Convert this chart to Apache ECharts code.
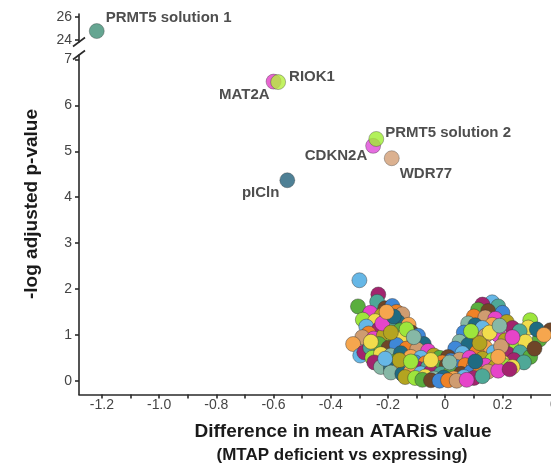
<!DOCTYPE html>
<html>
<head>
<meta charset="utf-8">
<script src="https://cdn.jsdelivr.net/npm/echarts@6/dist/echarts.min.js"></script>
<style>
  html, body { margin: 0; padding: 0; background: #fff; overflow: hidden; }
  /* the plot area runs past the right edge of the page, so the frame is wider than the window */
  #chart { width: 574px; height: 466px; }
</style>
</head>
<body>
<div id="chart"></div>
<script>
// ---- axis ticks ----
const xTickLabels = [-1.2, -1.0, -0.8, -0.6, -0.4, -0.2, 0, 0.2, 0.4];
const xTickMarks = [-1.2, -1.1, -1.0, -0.9, -0.8, -0.7, -0.6, -0.5, -0.4, -0.3, -0.2, -0.1, 0, 0.1, 0.2, 0.3, 0.4];
const yTicksLower = [0, 1, 2, 3, 4, 5, 6, 7];
const yTicksUpper = [24, 26];

// ---- named hits (difference, -log adj p) ----
const hitNames = ['MAT2A', 'RIOK1', 'CDKN2A', 'PRMT5 solution 2', 'WDR77', 'pICln'];
const hitDiff  = [-0.600, -0.584, -0.252, -0.241, -0.187, -0.552];
const hitLogP  = [6.52, 6.51, 5.12, 5.27, 4.85, 4.37];

const topHitName = 'PRMT5 solution 1';
const topHitDiff = -1.218;
const topHitLogP = 24.78;

// ---- remaining genes: [difference, -log adj p] ----
const leftArm = [
  [-0.300, 2.19], [-0.234, 1.88], [-0.238, 1.72], [-0.305, 1.62], [-0.210, 1.58],
  [-0.185, 1.63], [-0.170, 1.50], [-0.150, 1.45], [-0.262, 1.48], [-0.222, 1.42],
  [-0.288, 1.33], [-0.245, 1.30], [-0.205, 1.34], [-0.165, 1.28], [-0.128, 1.22],
  [-0.276, 1.18], [-0.232, 1.12], [-0.196, 1.20], [-0.158, 1.10], [-0.118, 1.05],
  [-0.095, 0.98], [-0.268, 1.03], [-0.290, 0.95], [-0.250, 0.92], [-0.215, 0.98],
  [-0.180, 0.90], [-0.145, 0.96], [-0.108, 0.85], [-0.075, 0.80], [-0.322, 0.80],
  [-0.297, 0.55], [-0.283, 0.62], [-0.262, 0.72], [-0.232, 0.80], [-0.198, 0.72],
  [-0.170, 0.78], [-0.135, 0.70], [-0.098, 0.68], [-0.060, 0.65], [-0.040, 0.55],
  [-0.255, 0.50], [-0.225, 0.58], [-0.190, 0.55], [-0.155, 0.60], [-0.120, 0.52],
  [-0.085, 0.50], [-0.248, 0.40], [-0.210, 0.38], [-0.175, 0.42], [-0.140, 0.36],
  [-0.105, 0.40], [-0.070, 0.38], [-0.030, 0.42], [-0.220, 1.25], [-0.190, 1.05],
  [-0.135, 1.12], [-0.260, 0.85], [-0.110, 0.95], [-0.180, 1.40], [-0.205, 1.50]
];

const rightArm = [
  [0.164, 1.71], [0.130, 1.66], [0.185, 1.62], [0.115, 1.55], [0.150, 1.52],
  [0.200, 1.48], [0.100, 1.40], [0.140, 1.38], [0.175, 1.35], [0.215, 1.28],
  [0.297, 1.32], [0.290, 1.16], [0.080, 1.25], [0.105, 1.21], [0.164, 1.22],
  [0.130, 1.15], [0.235, 1.15], [0.260, 1.08], [0.330, 0.90], [0.367, 1.10],
  [0.065, 1.05], [0.101, 0.92], [0.140, 0.98], [0.185, 1.00], [0.210, 0.88],
  [0.250, 0.80], [0.280, 0.85], [0.050, 0.85], [0.080, 0.78], [0.140, 0.72],
  [0.170, 0.62], [0.220, 0.58], [0.262, 0.62], [0.297, 0.52], [0.312, 0.70],
  [0.035, 0.70], [0.110, 0.62], [0.195, 0.75], [0.235, 0.95], [0.120, 0.82],
  [0.090, 1.08], [0.155, 1.05], [0.190, 1.20], [0.320, 1.12], [0.345, 1.00],
  [0.060, 0.60], [0.240, 0.45], [0.275, 0.40]
];

const valleyFloor = [
  [-0.020, 0.50], [0.010, 0.52], [0.020, 0.44], [-0.010, 0.40], [0.050, 0.46],
  [0.085, 0.50], [0.130, 0.48], [0.165, 0.45], [0.200, 0.40],
  [-0.225, 0.30], [-0.190, 0.28], [-0.160, 0.25], [-0.125, 0.30], [-0.095, 0.26],
  [-0.060, 0.30], [-0.025, 0.28], [0.005, 0.33], [0.040, 0.30], [0.070, 0.34],
  [0.100, 0.30], [0.140, 0.33], [0.175, 0.30], [0.210, 0.32], [0.235, 0.30],
  [-0.190, 0.18], [-0.150, 0.15], [-0.120, 0.20], [-0.085, 0.16], [-0.050, 0.19],
  [-0.015, 0.15], [0.020, 0.18], [0.055, 0.15], [0.090, 0.19], [0.120, 0.16],
  [0.150, 0.20], [0.185, 0.22],
  [-0.140, 0.08], [-0.105, 0.06], [-0.070, 0.09], [-0.040, 0.05], [-0.005, 0.07],
  [0.030, 0.05], [0.065, 0.08], [0.100, 0.06], [0.130, 0.10],
  [-0.080, 0.02], [-0.050, 0.01], [-0.020, 0.00], [0.010, 0.01], [0.040, 0.00],
  [0.075, 0.02],
  [-0.160, 0.45], [-0.120, 0.42], [-0.050, 0.45], [0.015, 0.40], [0.105, 0.42],
  [0.185, 0.52], [-0.210, 0.48], [0.225, 0.25]
];

// ---- styling ----
const palette = ['#9de63c', '#e644c9', '#ef8226', '#6f4628', '#4ea897', '#66b7e6', '#1f6b82',
                 '#f1dc4c', '#b4a420', '#cf9c70', '#3f88d8', '#5aae3e', '#a3246e', '#f6a64e', '#86b8a6'];
const hitColor = {
  'MAT2A': '#e23ec6', 'RIOK1': '#b4ef3c', 'CDKN2A': '#df4ad8',
  'PRMT5 solution 2': '#9fee32', 'WDR77': '#d29e74', 'pICln': '#22607a',
  'PRMT5 solution 1': '#3f8f76'
};
// label anchor side and nudge for each named gene
const hitLabel = {
  'MAT2A': ['left', [4, 13]], 'RIOK1': ['right', [3, -5]],
  'CDKN2A': ['left', [2, 10]], 'PRMT5 solution 2': ['right', [1, -6]],
  'WDR77': ['right', [0, 16]], 'pICln': ['left', [0, 13]],
  'PRMT5 solution 1': ['right', [1, -13]]
};

const FONT = "'Liberation Sans', Arial, Helvetica, sans-serif";
const X_MIN = -1.28, X_MAX = 0.45;
const LOW_MIN = -0.3, LOW_MAX = 7.1;
const UP_MIN = 23.83, UP_MAX = 26.26;

const cloud = leftArm.concat(rightArm, valleyFloor);

function hitItem(name, x, y) {
  const [pos, off] = hitLabel[name];
  return {
    name: name,
    value: [x, y],
    itemStyle: { color: hitColor[name] },
    label: { show: true, position: pos, distance: 0, offset: off, formatter: '{b}' }
  };
}

const lowerHits = hitNames.map((n, i) => hitItem(n, hitDiff[i], hitLogP[i]));
const upperHits = [hitItem(topHitName, topHitDiff, topHitLogP)];

const axisLineStyle = { color: '#2a2a2a', width: 1.6 };
const tickLabelStyle = { color: '#444', fontSize: 14, fontFamily: FONT };

const chart = echarts.init(document.getElementById('chart'), null, { renderer: 'canvas' });

chart.setOption({
  animation: false,
  backgroundColor: '#fff',
  textStyle: { fontFamily: FONT },
  grid: [
    { left: 79, right: 0, top: 55, bottom: 71.5 },
    { left: 79, right: 0, top: 14, height: 28 }
  ],
  xAxis: [
    {
      type: 'value', gridIndex: 0, min: X_MIN, max: X_MAX,
      splitLine: { show: false },
      axisLine: { show: true, onZero: false, lineStyle: axisLineStyle },
      axisTick: { show: true, length: 4, customValues: xTickMarks, lineStyle: axisLineStyle },
      axisLabel: Object.assign({
        margin: 4, customValues: xTickLabels, showMinLabel: true, showMaxLabel: true,
        formatter: v => (Math.abs(v) < 1e-9 ? '0' : v.toFixed(1))
      }, tickLabelStyle)
    },
    {
      type: 'value', gridIndex: 1, min: X_MIN, max: X_MAX, show: false
    }
  ],
  yAxis: [
    {
      type: 'value', gridIndex: 0, min: LOW_MIN, max: LOW_MAX,
      splitLine: { show: false },
      axisLine: { show: true, onZero: false, lineStyle: axisLineStyle },
      axisTick: { show: true, length: 4, customValues: yTicksLower, lineStyle: axisLineStyle },
      axisLabel: Object.assign({ margin: 7, customValues: yTicksLower }, tickLabelStyle)
    },
    {
      type: 'value', gridIndex: 1, min: UP_MIN, max: UP_MAX,
      splitLine: { show: false },
      axisLine: { show: true, onZero: false, lineStyle: axisLineStyle },
      axisTick: { show: true, length: 4, customValues: yTicksUpper, lineStyle: axisLineStyle },
      axisLabel: Object.assign({ margin: 7, customValues: yTicksUpper }, tickLabelStyle)
    }
  ],
  series: [
    {
      type: 'scatter', xAxisIndex: 0, yAxisIndex: 0, z: 2, silent: true,
      symbolSize: 15, data: cloud,
      itemStyle: {
        color: p => palette[(p.dataIndex * 7 + 5) % palette.length],
        borderColor: 'rgba(50,50,50,0.55)', borderWidth: 0.8, opacity: 1
      }
    },
    {
      type: 'scatter', xAxisIndex: 0, yAxisIndex: 0, z: 3, silent: true,
      symbolSize: 15, data: lowerHits,
      itemStyle: { borderColor: 'rgba(50,50,50,0.55)', borderWidth: 0.8 },
      label: { color: '#222', fontSize: 15, fontWeight: 'bold', fontFamily: FONT }
    },
    {
      type: 'scatter', xAxisIndex: 1, yAxisIndex: 1, z: 3, silent: true,
      symbolSize: 15, data: upperHits,
      itemStyle: { borderColor: 'rgba(50,50,50,0.55)', borderWidth: 0.8 },
      label: { color: '#222', fontSize: 15, fontWeight: 'bold', fontFamily: FONT }
    }
  ]
});

// axis break marks and axis titles
const lowTop = chart.convertToPixel({ xAxisIndex: 0, yAxisIndex: 0 }, [X_MIN, LOW_MAX]);
const upBottom = chart.convertToPixel({ xAxisIndex: 1, yAxisIndex: 1 }, [X_MIN, UP_MIN]);
const slash = (cx, cy) => ({
  type: 'line', silent: true,
  shape: { x1: cx - 6, y1: cy + 4.5, x2: cx + 6, y2: cy - 4.5 },
  style: { stroke: '#2a2a2a', lineWidth: 1.6 }
});

chart.setOption({
  graphic: [
    slash(lowTop[0], lowTop[1]),
    slash(upBottom[0], upBottom[1]),
    {
      type: 'text', silent: true, x: 343, y: 432,
      style: { text: 'Difference in mean ATARiS value', font: 'bold 19px ' + FONT,
               fill: '#1a1a1a', align: 'center', verticalAlign: 'middle' }
    },
    {
      type: 'text', silent: true, x: 342, y: 455,
      style: { text: '(MTAP deficient vs expressing)', font: 'bold 17px ' + FONT,
               fill: '#1a1a1a', align: 'center', verticalAlign: 'middle' }
    },
    {
      type: 'text', silent: true, x: 32, y: 204, rotation: Math.PI / 2,
      style: { text: '-log adjusted p-value', font: 'bold 19px ' + FONT,
               fill: '#1a1a1a', align: 'center', verticalAlign: 'middle' }
    }
  ]
});
</script>
</body>
</html>
